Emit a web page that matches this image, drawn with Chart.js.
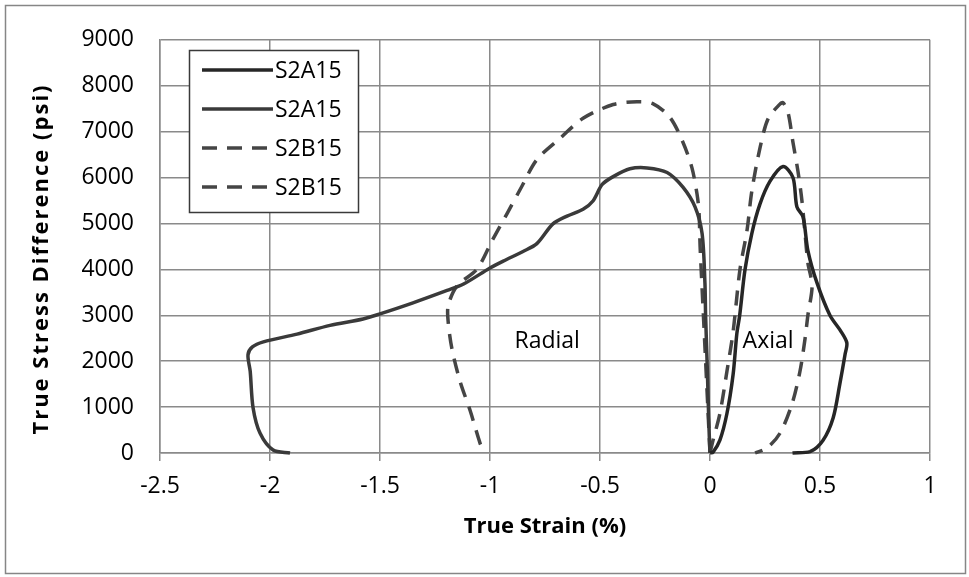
<!DOCTYPE html>
<html>
<head>
<meta charset="utf-8">
<script src="https://cdn.jsdelivr.net/npm/chart.js@4.4.0/dist/chart.umd.min.js"></script>
<style>
  html, body { margin: 0; padding: 0; background: #fff; }
  #wrap { width: 969px; height: 577px; }
</style>
</head>
<body>
<div id="wrap"><canvas id="stress-strain-chart" width="969" height="577"></canvas></div>
<script>
// tick labels
const xTicks = [-2.5, -2, -1.5, -1, -0.5, 0, 0.5, 1];
const yTicks = [0, 1000, 2000, 3000, 4000, 5000, 6000, 7000, 8000, 9000];

const seriesLabels = ["S2A15", "S2A15", "S2B15", "S2B15"];

// S2A15 axial (true strain %, true stress difference psi)
const s2a15AxialStrain = [0, 0.014, 0.045, 0.077, 0.105, 0.122, 0.135, 0.159, 0.19, 0.227, 0.273, 0.332, 0.377, 0.395, 0.423, 0.445, 0.486, 0.545, 0.595, 0.622, 0.614, 0.59, 0.56, 0.514, 0.455, 0.375];
const s2a15AxialStress = [0, 20, 280, 860, 1710, 2600, 3000, 3990, 4780, 5420, 5920, 6240, 6000, 5360, 5140, 4410, 3710, 3000, 2650, 2400, 2150, 1500, 770, 280, 30, 0];

// S2A15 radial
const s2a15RadialStrain = [0, -0.005, -0.012, -0.02, -0.023, -0.036, -0.068, -0.123, -0.195, -0.286, -0.364, -0.44, -0.49, -0.532, -0.577, -0.65, -0.714, -0.787, -0.85, -0.94, -1.0, -1.12, -1.195, -1.35, -1.5, -1.577, -1.727, -1.877, -2.03, -2.08, -2.1, -2.09, -2.077, -2.045, -1.986, -1.909];
const s2a15RadialStress = [0, 600, 1800, 3000, 3700, 4780, 5360, 5790, 6110, 6210, 6190, 6020, 5850, 5490, 5310, 5160, 4990, 4560, 4390, 4180, 4030, 3680, 3540, 3270, 3030, 2920, 2780, 2590, 2420, 2310, 2140, 1780, 986, 428, 64, 0];

// S2B15 axial
const s2b15AxialStrain = [0, 0.014, 0.045, 0.077, 0.105, 0.136, 0.168, 0.19, 0.227, 0.264, 0.318, 0.332, 0.355, 0.377, 0.4, 0.418, 0.432, 0.445, 0.464, 0.445, 0.432, 0.409, 0.373, 0.318, 0.259, 0.205];
const s2b15AxialStress = [0, 280, 860, 1780, 2640, 3990, 4840, 5700, 6640, 7280, 7600, 7630, 7410, 6770, 6130, 5490, 4780, 4140, 3640, 3000, 2490, 1780, 1070, 430, 110, 0];

// S2B15 radial
const s2b15RadialStrain = [0, -0.01, -0.03, -0.045, -0.05, -0.059, -0.082, -0.123, -0.182, -0.26, -0.332, -0.44, -0.577, -0.68, -0.787, -0.855, -0.923, -0.99, -1.06, -1.15, -1.19, -1.19, -1.173, -1.136, -1.09, -1.045, -1.035];
const s2b15RadialStress = [0, 1000, 3000, 4500, 5250, 5640, 6210, 6770, 7310, 7610, 7650, 7590, 7290, 6860, 6390, 5810, 5210, 4630, 4000, 3640, 3210, 2850, 2270, 1560, 920, 210, 120];

function toPoints(xs, ys) {
  return xs.map((x, i) => ({ x: x, y: ys[i] }));
}

const FONT = "'Open Sans', 'Liberation Sans', sans-serif";
const GRID = "#8a8a8a";

function lineSet(label, xs, ys, color, dash) {
  return {
    label: label,
    data: toPoints(xs, ys),
    showLine: true,
    borderColor: color,
    backgroundColor: color,
    borderWidth: 3.5,
    borderDash: dash,
    pointRadius: 0,
    tension: 0.3,
    clip: false
  };
}

const framePlugin = {
  id: "framePlugin",
  beforeDraw(chart) {
    const ctx = chart.ctx;
    ctx.save();
    ctx.fillStyle = "#fff";
    ctx.fillRect(0, 0, chart.width, chart.height);
    ctx.strokeStyle = "#868686";
    ctx.lineWidth = 1.5;
    ctx.strokeRect(5.5, 5.5, 960, 568);
    ctx.restore();
  },
  afterDraw(chart) {
    const ctx = chart.ctx;
    const xs = chart.scales.x;
    const ys = chart.scales.y;
    ctx.save();

    // axis titles
    ctx.fillStyle = "#000";
    ctx.textAlign = "center";
    ctx.textBaseline = "middle";
    ctx.font = "bold 22px " + FONT;
    ctx.fillText("True Strain (%)", 545, 527);

    ctx.save();
    ctx.translate(42, 259);
    ctx.rotate(-Math.PI / 2);
    if ("letterSpacing" in ctx) ctx.letterSpacing = "2px";
    ctx.fillText("True Stress Difference (psi)", 0, 0);
    ctx.restore();

    // region labels
    ctx.font = "23px " + FONT;
    ctx.fillText("Radial", xs.getPixelForValue(-0.74), ys.getPixelForValue(2420));
    ctx.fillText("Axial", xs.getPixelForValue(0.264), ys.getPixelForValue(2440));

    // legend box
    const box = { left: 189.5, top: 50.5, width: 169, height: 162 };
    ctx.fillStyle = "#fff";
    ctx.fillRect(box.left, box.top, box.width, box.height);
    ctx.strokeStyle = "#3a3a3a";
    ctx.lineWidth = 1.5;
    ctx.strokeRect(box.left, box.top, box.width, box.height);

    const rowY = [70, 109, 148, 187];
    chart.data.datasets.forEach((ds, i) => {
      ctx.beginPath();
      ctx.setLineDash(ds.borderDash || []);
      ctx.strokeStyle = ds.borderColor;
      ctx.lineWidth = ds.borderWidth;
      ctx.moveTo(202, rowY[i]);
      ctx.lineTo(273, rowY[i]);
      ctx.stroke();
      ctx.setLineDash([]);
      ctx.fillStyle = "#000";
      ctx.textAlign = "left";
      ctx.fillText(ds.label, 275, rowY[i] + 1);
    });
    ctx.restore();
  }
};

const canvas = document.getElementById("stress-strain-chart");

new Chart(canvas, {
  type: "scatter",
  data: {
    datasets: [
      lineSet(seriesLabels[0], s2a15AxialStrain, s2a15AxialStress, "#262626", []),
      lineSet(seriesLabels[1], s2a15RadialStrain, s2a15RadialStress, "#3a3a3a", []),
      lineSet(seriesLabels[2], s2b15AxialStrain, s2b15AxialStress, "#454545", [15, 10]),
      lineSet(seriesLabels[3], s2b15RadialStrain, s2b15RadialStress, "#454545", [15, 10])
    ]
  },
  options: {
    responsive: false,
    animation: false,
    devicePixelRatio: 1,
    layout: { padding: { top: 33, right: 39, bottom: 0, left: 0 } },
    plugins: {
      legend: { display: false },
      tooltip: { enabled: false }
    },
    scales: {
      x: {
        type: "linear",
        min: xTicks[0],
        max: xTicks[xTicks.length - 1],
        afterBuildTicks: scale => { scale.ticks = xTicks.map(v => ({ value: v })); },
        afterFit: scale => { scale.height = 124; },
        grid: { color: GRID, lineWidth: 1.5, drawTicks: true, tickLength: 8 },
        border: { color: GRID, width: 1.5 },
        ticks: {
          color: "#000",
          font: { family: FONT, size: 23 },
          padding: 12,
          maxRotation: 0,
          callback: v => String(v)
        }
      },
      y: {
        type: "linear",
        min: yTicks[0],
        max: yTicks[yTicks.length - 1],
        afterBuildTicks: scale => { scale.ticks = yTicks.map(v => ({ value: v })); },
        afterFit: scale => { scale.width = 160; },
        grid: { color: GRID, lineWidth: 1.5, drawTicks: false },
        border: { color: GRID, width: 1.5 },
        ticks: {
          color: "#000",
          font: { family: FONT, size: 23 },
          padding: 26,
          callback: v => String(v)
        }
      }
    }
  },
  plugins: [framePlugin]
});
</script>
</body>
</html>
